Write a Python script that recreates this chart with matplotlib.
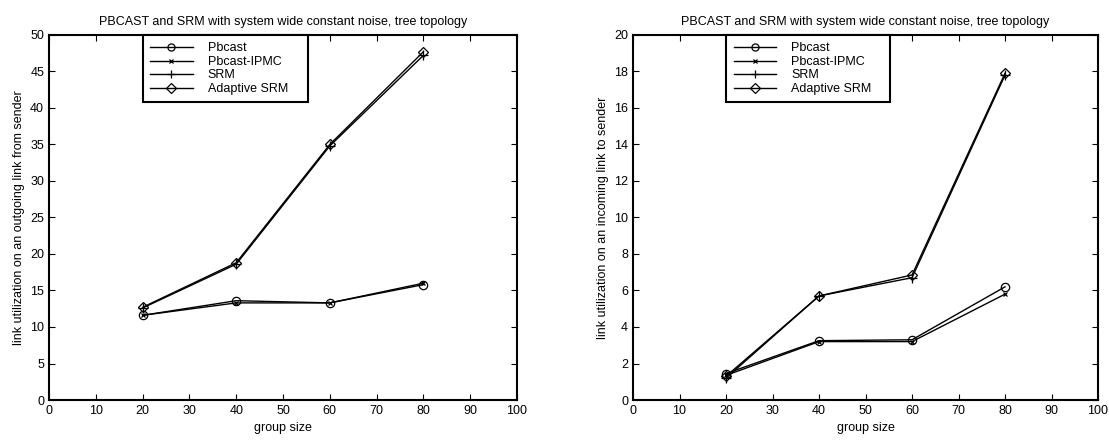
import matplotlib
matplotlib.use("Agg")
import matplotlib.pyplot as plt

plt.rcParams["font.family"] = ["Liberation Sans", "DejaVu Sans"]
plt.rcParams["font.size"] = 9

# --- data ---
group_size = [20, 40, 60, 80]
series_names = ["Pbcast", "Pbcast-IPMC", "SRM", "Adaptive SRM"]

out_pbcast = [11.6, 13.6, 13.3, 15.8]
out_ipmc = [11.6, 13.3, 13.3, 16.0]
out_srm = [12.6, 18.6, 34.8, 47.2]
out_adaptive = [12.7, 18.8, 35.0, 47.7]

in_pbcast = [1.45, 3.25, 3.3, 6.2]
in_ipmc = [1.35, 3.2, 3.2, 5.8]
in_srm = [1.2, 5.7, 6.7, 17.8]
in_adaptive = [1.3, 5.7, 6.85, 17.9]

title = "PBCAST and SRM with system wide constant noise, tree topology"
markers = ["o", "x", "+", "D"]
msizes = [6, 3.5, 7, 5.5]


def draw(ax, ys, ymax, ystep, ylabel):
    for y, name, m, ms in zip(ys, series_names, markers, msizes):
        ax.plot(group_size, y, color="black", linewidth=1.0, marker=m,
                markersize=ms, markerfacecolor="none", markeredgecolor="black",
                markeredgewidth=0.9, label=name)
    ax.set_xlim(0, 100)
    ax.set_ylim(0, ymax)
    ax.set_xticks(range(0, 101, 10))
    ax.set_yticks(range(0, ymax + 1, ystep))
    ax.set_title(title, fontsize=9, pad=7)
    ax.set_xlabel("group size")
    ax.set_ylabel(ylabel)
    ax.tick_params(direction="in", top=True, right=True, length=4, width=0.8)
    for s in ax.spines.values():
        s.set_linewidth(1.5)
    leg = ax.legend(loc="upper left", bbox_to_anchor=(0.2, 0.0, 0.353, 1.0),
                    mode="expand", borderaxespad=0,
                    fancybox=False, framealpha=1, edgecolor="black",
                    handlelength=3.4, handletextpad=1.2, labelspacing=0.12,
                    borderpad=0.6, fontsize=9, markerscale=0.85)
    leg.get_frame().set_linewidth(1.5)


fig = plt.figure(figsize=(11.09, 4.42), dpi=100)
ax1 = fig.add_axes([0.0442, 0.095, 0.422, 0.826])
ax2 = fig.add_axes([0.5708, 0.095, 0.4193, 0.826])

draw(ax1, [out_pbcast, out_ipmc, out_srm, out_adaptive], 50, 5,
     "link utilization on an outgoing link from sender")
draw(ax2, [in_pbcast, in_ipmc, in_srm, in_adaptive], 20, 2,
     "link utilization on an incoming link to sender")

fig.savefig("out.png", dpi=100)
